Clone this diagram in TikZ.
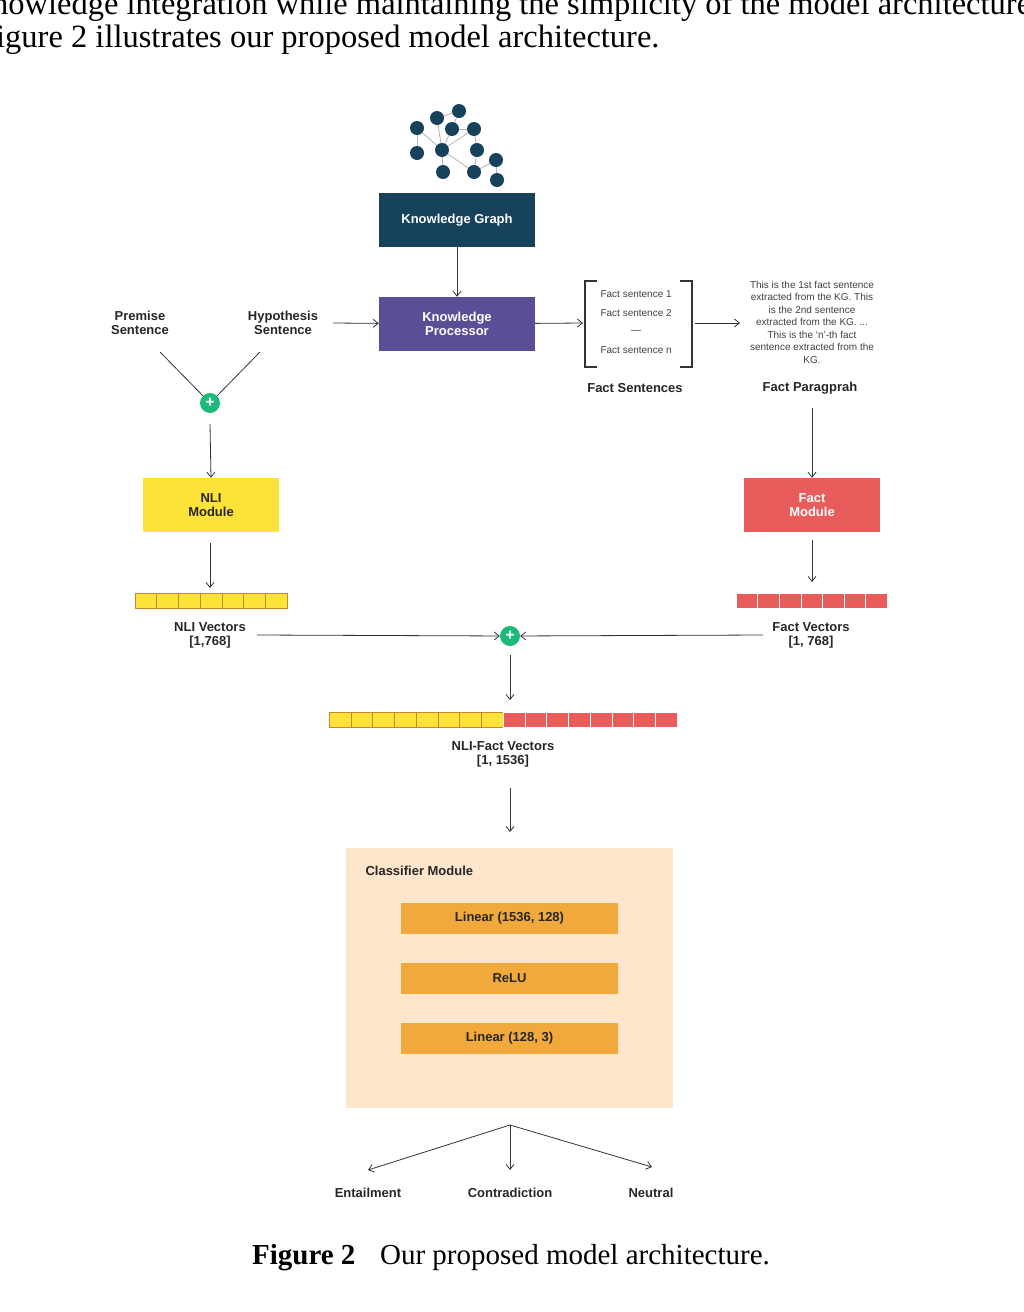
\documentclass[tikz,border=0pt]{standalone}
\usepackage{fontspec}
\setmainfont{Liberation Serif}
\setsansfont{Liberation Sans}
\usetikzlibrary{arrows.meta}
\definecolor{navy}{HTML}{16425B}
\definecolor{kp}{HTML}{5B4E96}
\definecolor{nliy}{HTML}{FDE23A}
\definecolor{factr}{HTML}{E85C5C}
\definecolor{panel}{HTML}{FDE6CC}
\definecolor{orng}{HTML}{F2A93B}
\definecolor{plusg}{HTML}{1DB97A}
\begin{document}
\begin{tikzpicture}[x=1pt,y=-1pt,
  lbl/.style={font=\sffamily\bfseries\fontsize{13}{14}\selectfont,align=center,text=black!85},
  small/.style={font=\sffamily\fontsize{10}{12.5}\selectfont,align=center,text=black!75},
  box/.style={minimum width=156pt,minimum height=54pt,font=\sffamily\bfseries\fontsize{13}{14}\selectfont,align=center,text=white},
  arr/.style={-{Straight Barb[length=5pt,width=8pt]},line width=0.8pt,black!80},
  kgn/.style={circle,fill=navy,minimum size=14pt,inner sep=0},
  kge/.style={gray!55,line width=0.9pt},
  plus/.style={circle,fill=plusg,minimum size=20pt,inner sep=0,text=white,font=\sffamily\bfseries\fontsize{16}{16}\selectfont},
  orb/.style={fill=orng,minimum width=217pt,minimum height=31pt,font=\sffamily\bfseries\fontsize{13}{14}\selectfont,text=black!85}]
\useasboundingbox (0,0) rectangle (1023,1312);
% top text
\node[anchor=base west,font=\fontsize{32.5}{34}\selectfont,inner sep=0] (t1) at (-8,14) {nowledge integration while maintaining the simplicity of the model architecture};
\node[anchor=base west,font=\fontsize{32.5}{34}\selectfont,inner sep=0] (t2) at (-4,47) {igure 2 illustrates our proposed model architecture.};
% graph icon
\foreach \n/\x/\y in {a/417/128,b/437/118,c/459/111,d/452/129,e/474/129,f/417/153,g/442/150,h/477/150,i/443/172,j/474/172,k/496/160,l/497/180}
  \coordinate (\n) at (\x,\y);
\foreach \p/\q in {a/f,b/c,b/g,d/g,c/d,d/e,e/g,e/h,g/i,g/j,h/j,j/k,k/l,a/g}
  \draw[kge] (\p) -- (\q);
\foreach \n in {a,b,c,d,e,f,g,h,i,j,k,l} \node[kgn] (n\n) at (\n) {};
% boxes
\node[box,fill=navy] (kg) at (457,220) {Knowledge Graph};
\node[box,fill=kp] (kproc) at (457,324) {Knowledge\\Processor};
\draw[arr] (kg) -- (kproc);
\node[lbl] (prem) at (140,323) {Premise\\Sentence};
\node[lbl] (hyp) at (283,323) {Hypothesis\\Sentence};
\coordinate (hr) at (333,323);
\draw[arr] (hr) -- (kproc);
% fact sentences
\node[small,align=left,anchor=west] (fs1) at (597,294) {Fact sentence 1};
\node[small,align=left,anchor=west] (fs2) at (597,313) {Fact sentence 2};
\node[small] (fs3) at (636,332) {---};
\node[small,align=left,anchor=west] (fs4) at (597,350) {Fact sentence n};
\draw[line width=1.2pt,black!80] (597,281) -- (585,281) -- (585,367) -- (597,367);
\draw[line width=1.2pt,black!80] (680,281) -- (692,281) -- (692,367) -- (680,367);
\coordinate (bl) at (583,323);
\coordinate (br) at (695,323);
\draw[arr] (kproc) -- (bl);
\node[lbl] (fsl) at (635,388) {Fact Sentences};
\node[small] (para) at (812,322) {This is the 1st fact sentence\\extracted from the KG. This\\is the 2nd sentence\\extracted from the KG. ...\\This is the `n'-th fact\\sentence extracted from the\\KG.};
\coordinate (pl) at (740,323);
\draw[arr] (br) -- (pl);
\node[lbl] (fpl) at (810,388) {Fact Paragprah};
% NLI side
\node[plus] (p1) at (210,403) {+};
\draw[line width=0.8pt,black!80] (160,352) -- (p1);
\draw[line width=0.8pt,black!80] (260,352) -- (p1);
\node[box,fill=nliy,text=black!85,minimum width=136pt] (nli) at (211,505) {NLI\\Module};
\coordinate (p1s) at (210,424);
\draw[arr] (p1s) -- (nli.north);
\foreach \i in {0,...,6} \draw[fill=nliy,draw=orng!80!black,line width=0.5pt] (135+\i*21.7,593) rectangle ++(21.7,15);
\coordinate (nv) at (210,588);
\coordinate (nlis) at (210,543);
\draw[arr] (nlis) -- (nv);
\node[lbl] (nvl) at (210,635) {NLI Vectors\\{[1,768]}};
% fact side
\node[box,fill=factr,minimum width=136pt] (fm) at (812,505) {Fact\\Module};
\coordinate (fpb) at (812,408);
\draw[arr] (fpb) -- (fm.north);
\foreach \i in {0,...,6} \draw[fill=factr,draw=white,line width=0.5pt] (736+\i*21.6,593) rectangle ++(21.6,15);
\coordinate (fv) at (812,582);
\coordinate (fms) at (812,540);
\draw[arr] (fms) -- (fv);
\node[lbl] (fvl) at (811,635) {Fact Vectors\\{[1, 768]}};
% combine
\node[plus] (p2) at (510,636) {+};
\coordinate (nve) at (257,635);
\coordinate (fvw) at (763,635);
\draw[arr] (nve) -- (p2);
\draw[arr] (fvw) -- (p2);
\foreach \i in {0,...,7} \draw[fill=nliy,draw=orng!80!black,line width=0.5pt] (329+\i*21.75,712) rectangle ++(21.75,15);
\foreach \i in {0,...,7} \draw[fill=factr,draw=white,line width=0.5pt] (503+\i*21.75,712) rectangle ++(21.75,15);
\coordinate (cb) at (510,700);
\coordinate (p2s) at (510,655);
\draw[arr] (p2s) -- (cb);
\node[lbl] (cvl) at (503,754) {NLI-Fact Vectors\\{[1, 1536]}};
% classifier
\node[fill=panel,minimum width=327pt,minimum height=260pt] (cls) at (509.5,978) {};
\coordinate (ct) at (510,832);
\coordinate (cvb) at (510,788);
\draw[arr] (cvb) -- (ct);
\node[lbl,anchor=west] (clt) at (362,871) {Classifier Module};
\node[orb] (l1) at (509.5,918.5) {Linear (1536, 128)};
\node[orb] (l2) at (509.5,978.5) {ReLU};
\node[orb] (l3) at (509.5,1038.5) {Linear (128, 3)};
% outputs
\coordinate (o) at (510,1125);
\node[lbl] (ent) at (368,1193) {Entailment};
\node[lbl] (con) at (510,1193) {Contradiction};
\node[lbl] (neu) at (651,1193) {Neutral};
\coordinate (e1) at (368,1170);
\coordinate (c1) at (510,1170);
\coordinate (n1) at (652,1167);
\draw[arr] (o) -- (e1);
\draw[arr] (o) -- (c1);
\draw[arr] (o) -- (n1);
% caption
\node[font=\fontsize{29}{32}\selectfont] (cap) at (511,1258) {\textbf{Figure 2}\hspace{0.6em} Our proposed model architecture.};
\end{tikzpicture}
\end{document}
